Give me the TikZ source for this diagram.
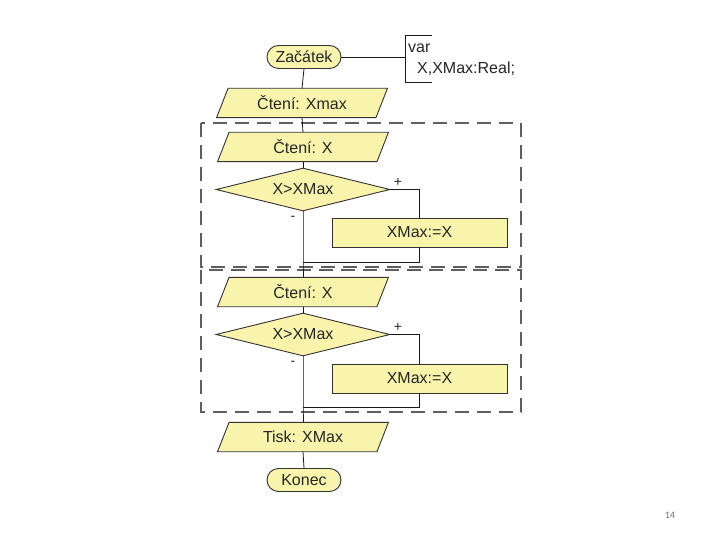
\documentclass[tikz,border=0pt]{standalone}
\usepackage{fontspec}
\setmainfont{Liberation Sans}
\newfontfamily\pagefont{Carlito}
\usetikzlibrary{shapes.geometric,shapes.misc,backgrounds}
\definecolor{yel}{RGB}{249,244,172}
\definecolor{dashgray}{RGB}{95,95,95}
\begin{document}
\begin{tikzpicture}[x=1pt,y=-1pt,
  every node/.style={font=\fontsize{16}{19}\selectfont, text=black!85},
  term/.style={rounded rectangle, draw=black!80, line width=0.9pt, fill=yel, minimum width=74pt, minimum height=23pt, inner sep=0pt},
  io/.style={rectangle, minimum width=159pt, minimum height=29pt, inner sep=0pt},
  iofill/.style={draw=black!80, line width=0.9pt, fill=yel},
  decide/.style={diamond, aspect=4, draw=black!80, line width=0.9pt, fill=yel, minimum width=174pt, minimum height=43pt, inner sep=0pt},
  proc/.style={rectangle, draw=black!80, line width=0.9pt, fill=yel, minimum width=175pt, minimum height=29pt, inner sep=0pt},
  conn/.style={draw=black!90, line width=0.8pt},
  grp/.style={draw=dashgray, line width=1.8pt, dash pattern=on 14pt off 8pt},
  lbl/.style={inner sep=0pt, font=\fontsize{14}{16}\selectfont}
]
\useasboundingbox (0,0) rectangle (720,540);
% dashed groups
\draw[grp] (201,123) rectangle (521,267);
\draw[grp] (201,270) rectangle (521,412);
% nodes
\node[term] (start) at (304,57) {Začátek};
\node[io] (r0) at (302,103) {Čtení: Xmax};
\node[io] (r1) at (303,147) {Čtení: X};
\node[decide] (d1) at (303,189.5) {X>XMax};
\node[proc] (p1) at (419.5,232.5) {XMax:=X};
\coordinate (j1) at (303,262);
\node[io] (r2) at (303,292) {Čtení: X};
\node[decide] (d2) at (303,334.5) {X>XMax};
\node[proc] (p2) at (419.5,378.5) {XMax:=X};
\coordinate (j2) at (303,407);
\node[io] (w) at (303,437) {Tisk: XMax};
\node[term] (end) at (304,480) {Konec};
% parallelogram outlines behind the input/output nodes
\begin{scope}[on background layer]
\foreach \n in {r0,r1,r2,w}
  \filldraw[iofill] ([xshift=-5.75pt]\n.south west) -- ([xshift=-5.75pt]\n.south east)
     -- ([xshift=5.75pt]\n.north east) -- ([xshift=5.75pt]\n.north west) -- cycle;
\end{scope}
% declaration bracket
\coordinate (bt) at (405,35);
\coordinate (bb) at (405,82);
\coordinate (bm) at (405,57);
\draw[conn] (432,35) -- (bt) -- (bb) -- (432,82);
\node[anchor=base west, inner sep=0pt] (v1) at (408,53) {var};
\node[anchor=base west, inner sep=0pt] (v2) at (417,74) {X,XMax:Real;};
\draw[conn] (start.east) -- (bm);
% main flow
\draw[conn] (start.south) -- (r0.north);
\draw[conn] (r0.south) -- (r1.north);
\draw[conn] (r1.south) -- (d1.north);
\draw[conn] (d1.south) -- (j1) -- (r2.north);
\draw[conn] (d1.east) -| (p1.north);
\draw[conn] (p1.south) |- (j1);
\draw[conn] (r2.south) -- (d2.north);
\draw[conn] (d2.south) -- (j2) -- (w.north);
\draw[conn] (d2.east) -| (p2.north);
\draw[conn] (p2.south) |- (j2);
\draw[conn] (w.south) -- (end.north);
% branch labels
\node[lbl] (plus1) at (398,182) {+};
\node[lbl] (minus1) at (293,218) {-};
\node[lbl] (plus2) at (398,327) {+};
\node[lbl] (minus2) at (293,363) {-};
% page number
\node[font=\pagefont\fontsize{10}{12}\selectfont, text=black!55] (pg) at (670,515) {14};
\end{tikzpicture}
\end{document}
